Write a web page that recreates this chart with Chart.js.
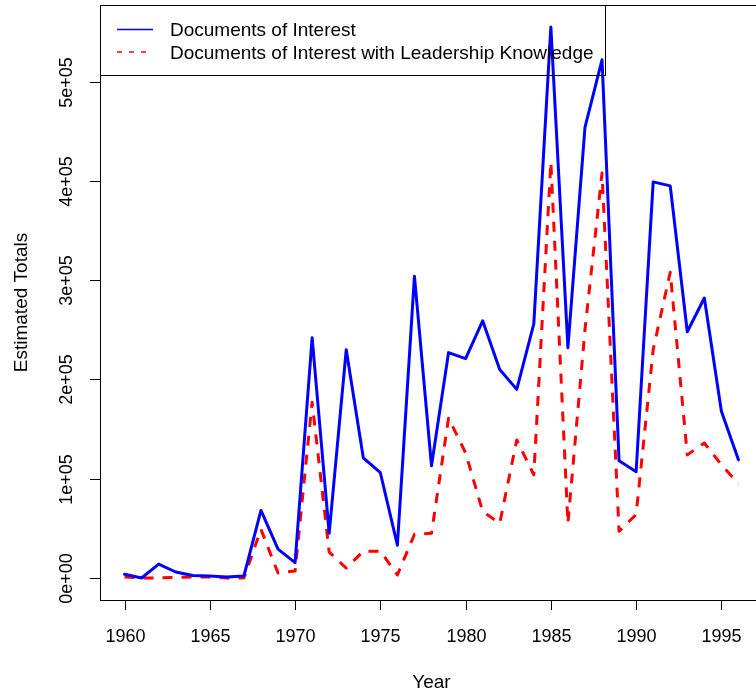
<!DOCTYPE html>
<html>
<head>
<meta charset="utf-8">
<script src="https://cdn.jsdelivr.net/npm/chart.js@4.4.1/dist/chart.umd.min.js"></script>
<style>
  html, body { margin: 0; padding: 0; background: #ffffff; overflow: hidden; width: 756px; height: 693px; }
  #wrap { position: absolute; left: 0; top: 0; width: 764px; height: 693px; }
</style>
</head>
<body>
<div id="wrap"><canvas id="c" width="764" height="693"></canvas></div>
<script>
// ---- data ----
const years = [1960,1961,1962,1963,1964,1965,1966,1967,1968,1969,1970,1971,1972,1973,1974,1975,1976,1977,1978,1979,1980,1981,1982,1983,1984,1985,1986,1987,1988,1989,1990,1991,1992,1993,1994,1995,1996];
const documentsOfInterest = [3700,0,14000,6000,2500,2000,1000,2000,68000,29000,15500,242000,45000,230000,121000,106000,33000,304000,113000,227000,221000,259000,210000,190000,256000,555000,232000,454000,522000,118000,107000,399000,395000,248000,282000,168000,119000];
const documentsWithLeadership = [1000,0,0,500,1000,1000,0,0,49000,5000,7000,177000,26000,10000,27000,27000,3000,44000,45000,161000,126000,67000,55000,139000,104000,419000,55000,250000,408000,47000,64000,230000,308000,124000,136000,114000,95000];
const seriesNames = ["Documents of Interest", "Documents of Interest with Leadership Knowledge"];
const xTickValues = [1960,1965,1970,1975,1980,1985,1990,1995];
const yTickValues = [0,100000,200000,300000,400000,500000];
const yTickLabels = ["0e+00","1e+05","2e+05","3e+05","4e+05","5e+05"];
const xTitle = "Year";
const yTitle = "Estimated Totals";

const FAMILY = '"Liberation Sans", Arial, Helvetica, sans-serif';
const TICK_FONT = '18px ' + FAMILY;
const TEXT_FONT = '19px ' + FAMILY;

const toPoints = (vals) => years.map((yr, i) => ({ x: yr, y: vals[i] }));

const xSpan = years[years.length - 1] - years[0];
const yMaxData = Math.max(...documentsOfInterest, ...documentsWithLeadership);

const rAxesPlugin = {
  id: 'rAxes',
  afterDraw(chart) {
    const ctx = chart.ctx;
    const a = chart.chartArea;
    const xs = chart.scales.x, ys = chart.scales.y;
    ctx.save();
    ctx.strokeStyle = '#000';
    ctx.fillStyle = '#000';
    ctx.lineWidth = 1;
    ctx.setLineDash([]);
    // plot box
    ctx.strokeRect(a.left + 0.5, a.top + 0.5, a.right - a.left, a.bottom - a.top);
    ctx.font = TICK_FONT;
    // x ticks
    ctx.textAlign = 'center';
    ctx.textBaseline = 'alphabetic';
    xTickValues.forEach(v => {
      const px = Math.round(xs.getPixelForValue(v)) + 0.5;
      ctx.beginPath();
      ctx.moveTo(px, a.bottom);
      ctx.lineTo(px, a.bottom + 10);
      ctx.stroke();
      ctx.fillText(String(v), px, a.bottom + 42);
    });
    // y ticks
    yTickValues.forEach((v, i) => {
      const py = Math.round(ys.getPixelForValue(v)) + 0.5;
      ctx.beginPath();
      ctx.moveTo(a.left - 10, py);
      ctx.lineTo(a.left, py);
      ctx.stroke();
      ctx.save();
      ctx.translate(a.left - 28, py);
      ctx.rotate(-Math.PI / 2);
      ctx.textAlign = 'center';
      ctx.fillText(yTickLabels[i], 0, 0);
      ctx.restore();
    });
    // titles
    ctx.font = TEXT_FONT;
    ctx.textAlign = 'center';
    ctx.fillText(xTitle, (a.left + a.right) / 2, 688);
    ctx.save();
    ctx.translate(27, (a.top + a.bottom) / 2);
    ctx.rotate(-Math.PI / 2);
    ctx.fillText(yTitle, 0, 0);
    ctx.restore();
    // legend (R style)
    const lx = a.left, ly = a.top;
    ctx.lineWidth = 1;
    ctx.strokeRect(lx + 0.5, ly + 0.5, 505, 70);
    const ds = chart.data.datasets;
    const rows = [29.5, 52];
    ds.forEach((d, i) => {
      ctx.beginPath();
      ctx.strokeStyle = d.borderColor;
      ctx.lineWidth = 1.5;
      ctx.setLineDash(i === 1 ? [5, 7] : []);
      ctx.moveTo(lx + 17, rows[i]);
      ctx.lineTo(lx + 53, rows[i]);
      ctx.stroke();
      ctx.setLineDash([]);
      ctx.fillStyle = '#000';
      ctx.textAlign = 'left';
      ctx.fillText(d.label, lx + 70, rows[i] + 6.5);
    });
    ctx.restore();
  }
};

new Chart(document.getElementById('c'), {
  type: 'line',
  data: {
    datasets: [
      {
        label: seriesNames[0],
        data: toPoints(documentsOfInterest),
        borderColor: '#0000FF',
        borderWidth: 3,
        pointRadius: 0,
        tension: 0,
        fill: false,
        borderJoinStyle: 'round',
        borderCapStyle: 'round'
      },
      {
        label: seriesNames[1],
        data: toPoints(documentsWithLeadership),
        borderColor: '#FF0000',
        borderWidth: 3,
        borderDash: [10, 9],
        pointRadius: 0,
        tension: 0,
        fill: false,
        borderJoinStyle: 'round',
        borderCapStyle: 'butt'
      }
    ]
  },
  options: {
    responsive: false,
    animation: false,
    events: [],
    layout: { padding: { left: 100, top: 5, right: 1, bottom: 93 } },
    plugins: { legend: { display: false }, tooltip: { enabled: false }, title: { display: false } },
    scales: {
      x: {
        type: 'linear',
        display: false,
        min: years[0] - 0.04 * xSpan,
        max: years[years.length - 1] + 0.04 * xSpan
      },
      y: {
        type: 'linear',
        display: false,
        min: -0.04 * yMaxData,
        max: yMaxData * 1.04
      }
    }
  },
  plugins: [rAxesPlugin]
});
</script>
</body>
</html>
